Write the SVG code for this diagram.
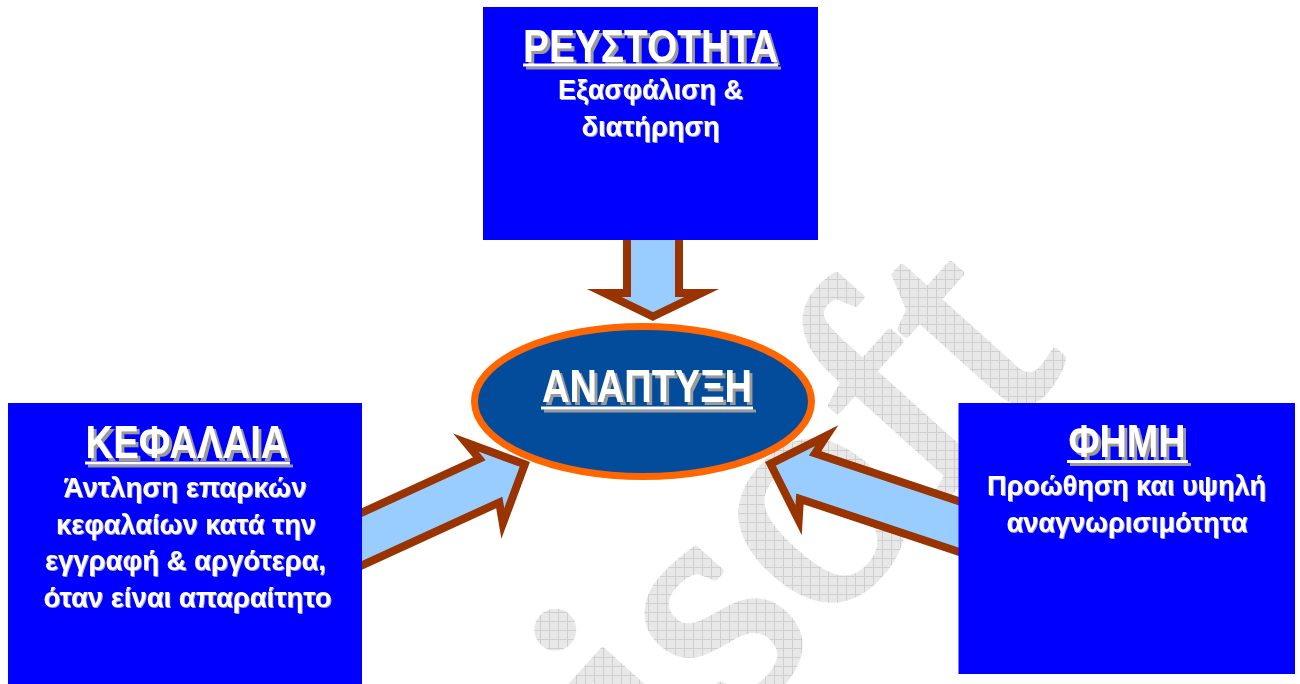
<svg xmlns="http://www.w3.org/2000/svg" width="1300" height="684" viewBox="0 0 1300 684">
  <defs>
    <pattern id="grid" width="9" height="9" patternUnits="userSpaceOnUse" patternTransform="rotate(48)">
      <rect width="9" height="9" fill="#e8e8e8"/>
      <path d="M0 0.5H9M0.5 0V9" stroke="#cfcfcf" stroke-width="1"/>
    </pattern>
    <filter id="shadow" x="-10%" y="-20%" width="130%" height="160%">
      <feOffset in="SourceAlpha" dx="2.5" dy="2.5" result="off"/>
      <feFlood flood-color="#9a9a9a"/>
      <feComposite in2="off" operator="in" result="sh"/>
      <feMerge><feMergeNode in="sh"/><feMergeNode in="SourceGraphic"/></feMerge>
    </filter>
    <filter id="shadow2" x="-10%" y="-20%" width="130%" height="160%">
      <feOffset in="SourceAlpha" dx="1" dy="1" result="off"/>
      <feFlood flood-color="#a8a8c0"/>
      <feComposite in2="off" operator="in" result="sh"/>
      <feMerge><feMergeNode in="sh"/><feMergeNode in="SourceGraphic"/></feMerge>
    </filter>
    <polygon id="arrowSide" points="-5.7,0 -50.3,-44.6 -44.8,-24 -250,-24 -250,24 -44.8,24 -50.3,44.6"/>
    <polygon id="arrowTop" points="-4.5,0 -28,-48.6 -28,-26 -100,-26 -100,26 -28,26 -28,48.6"/>
  </defs>
  <style>
    .box { fill: #0000FF; }
    .title { font-family: "Liberation Sans", Arial, sans-serif; font-weight: bold; font-size: 47px; fill: #FFFFFF; text-anchor: middle; }
    .body { font-family: "Liberation Sans", Arial, sans-serif; font-weight: bold; font-size: 27px; fill: #FFFFFF; text-anchor: middle; }
    .ul { fill: #FFFFFF; }
    .arrow { fill: #99CCFF; stroke: #993300; stroke-width: 8; stroke-linejoin: miter; stroke-miterlimit: 10; }
    .wm { font-family: "Liberation Serif", "Times New Roman", serif; font-size: 330px; fill: url(#grid); stroke: url(#grid); stroke-width: 7; stroke-linejoin: round; }
  </style>

  <rect width="1300" height="684" fill="#FFFFFF"/>

  <g id="watermark">
    <text class="wm" transform="rotate(-48)" x="-140" y="1035">isoft</text>
  </g>

  <g id="connectors">
    <use href="#arrowTop" class="arrow" transform="translate(653,321) rotate(90)"/>
    <use href="#arrowSide" class="arrow" transform="translate(530,462) rotate(-24.6)"/>
    <use href="#arrowSide" class="arrow" transform="translate(765,462) rotate(198.4)"/>
  </g>

  <g id="node-anaptyxi">
    <ellipse cx="643" cy="401.5" rx="168.5" ry="75" fill="#034C9C" stroke="#FF6600" stroke-width="7"/>
    <g filter="url(#shadow)">
      <text class="title" x="647" y="402" textLength="210" lengthAdjust="spacingAndGlyphs">ΑΝΑΠΤΥΞΗ</text>
      <rect class="ul" x="541" y="406.5" width="212" height="3"/>
    </g>
  </g>

  <g id="node-reustotita">
    <rect class="box" x="483" y="7" width="335" height="233"/>
    <g filter="url(#shadow)">
      <text class="title" x="650.5" y="62" font-size="48" textLength="255" lengthAdjust="spacingAndGlyphs">ΡΕΥΣΤΟΤΗΤΑ</text>
      <rect class="ul" x="523" y="63.5" width="255" height="3"/>
    </g>
    <g filter="url(#shadow2)">
      <text class="body" x="650.5" y="99" textLength="185" lengthAdjust="spacingAndGlyphs">Εξασφάλιση &amp;</text>
      <text class="body" x="650.5" y="136" textLength="138" lengthAdjust="spacingAndGlyphs">διατήρηση</text>
    </g>
  </g>

  <g id="node-kefalaia">
    <rect class="box" x="8" y="403" width="354" height="281"/>
    <g filter="url(#shadow)">
      <text class="title" x="187" y="457.5" textLength="203" lengthAdjust="spacingAndGlyphs">ΚΕΦΑΛΑΙΑ</text>
      <rect class="ul" x="85" y="461.5" width="205" height="3"/>
    </g>
    <g filter="url(#shadow2)">
      <text class="body" x="185" y="497" textLength="243" lengthAdjust="spacingAndGlyphs">Άντληση επαρκών</text>
      <text class="body" x="186" y="533.5" textLength="260" lengthAdjust="spacingAndGlyphs">κεφαλαίων κατά την</text>
      <text class="body" x="185.5" y="570" textLength="281" lengthAdjust="spacingAndGlyphs">εγγραφή &amp; αργότερα,</text>
      <text class="body" x="187.5" y="606.7" textLength="288" lengthAdjust="spacingAndGlyphs">όταν είναι απαραίτητο</text>
    </g>
  </g>

  <g id="node-fimi">
    <rect class="box" x="958.5" y="403" width="336.5" height="271"/>
    <g filter="url(#shadow)">
      <text class="title" x="1127" y="456.7" textLength="117" lengthAdjust="spacingAndGlyphs">ΦΗΜΗ</text>
      <rect class="ul" x="1067" y="460" width="121" height="3"/>
    </g>
    <g filter="url(#shadow2)">
      <text class="body" x="1126.5" y="495" textLength="279" lengthAdjust="spacingAndGlyphs">Προώθηση και υψηλή</text>
      <text class="body" x="1127" y="531.7" textLength="241" lengthAdjust="spacingAndGlyphs">αναγνωρισιμότητα</text>
    </g>
  </g>
</svg>
